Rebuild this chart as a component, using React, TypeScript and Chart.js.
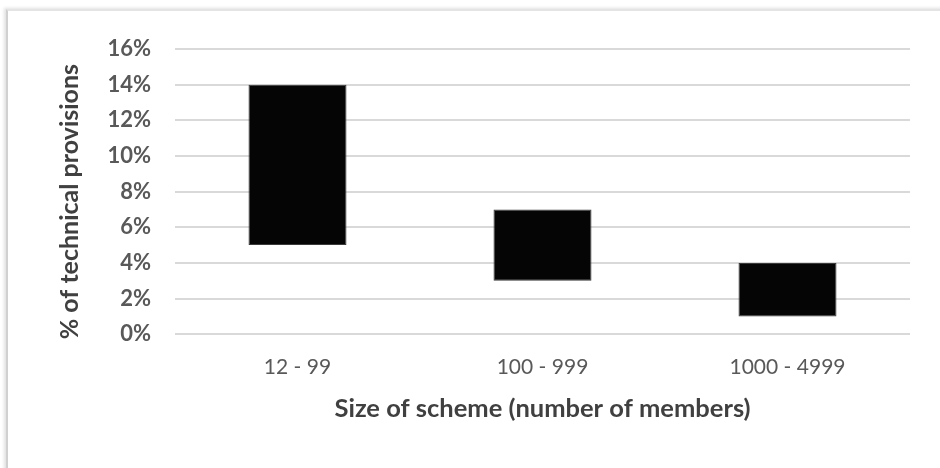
import React, { useEffect, useRef } from "react";
import { Chart, registerables } from "chart.js";

Chart.register(...registerables);

const categories = ["12 - 99", "100 - 999", "1000 - 4999"];
const rangeLow = [5, 3, 1];
const rangeHigh = [14, 7, 4];
const yTicks = [0, 2, 4, 6, 8, 10, 12, 14, 16];
const yTitle = "% of technical provisions";
const xTitle = "Size of scheme (number of members)";

const FONT = "Lato, 'Open Sans', sans-serif";

// Rotated y-axis caption, centred a little below the middle of the plot area.
const yCaptionPlugin = {
  id: "yCaption",
  afterDraw(chart: any) {
    const { ctx, chartArea } = chart;
    ctx.save();
    ctx.translate(70, (chartArea.top + chartArea.bottom) / 2 + 10);
    ctx.rotate(-Math.PI / 2);
    ctx.font = `bold 25px ${FONT}`;
    ctx.fillStyle = "#404040";
    ctx.textAlign = "center";
    ctx.textBaseline = "middle";
    ctx.fillText(yTitle, 0, 0);
    ctx.restore();
  },
};

export default function App() {
  const canvasRef = useRef<HTMLCanvasElement | null>(null);

  useEffect(() => {
    const canvas = canvasRef.current;
    if (!canvas) return;
    const chart = new Chart(canvas, {
      type: "bar",
      data: {
        labels: categories,
        datasets: [
          {
            data: categories.map((_, i) => [rangeLow[i], rangeHigh[i]]) as any,
            backgroundColor: "#050505",
            borderColor: "#3a3a3a",
            borderWidth: 1,
            borderSkipped: false,
            barPercentage: 0.8,
            categoryPercentage: 0.5,
          },
        ],
      },
      options: {
        animation: false,
        responsive: false,
        maintainAspectRatio: false,
        layout: { padding: { left: 52, right: 30, top: 49, bottom: 40 } },
        plugins: { legend: { display: false }, tooltip: { enabled: false } },
        scales: {
          x: {
            grid: { display: false },
            border: { display: false },
            ticks: {
              color: "#595959",
              font: { family: FONT, size: 21 },
              padding: 12,
            },
            title: {
              display: true,
              text: xTitle,
              color: "#404040",
              font: { family: FONT, size: 25.5, weight: "bold" },
              padding: { top: 2 },
            },
          },
          y: {
            min: 0,
            max: 16,
            afterBuildTicks: (scale: any) => {
              scale.ticks = yTicks.map((v) => ({ value: v }));
            },
            afterFit: (scale: any) => {
              scale.width = 123;
            },
            grid: { color: "#d9d9d9", lineWidth: 2, drawTicks: false },
            border: { display: false },
            ticks: {
              color: "#595959",
              font: { family: FONT, size: 22, weight: "bold" },
              padding: 24,
              callback: (v: any) => `${v}%`,
            },
          },
        },
      },
      plugins: [yCaptionPlugin],
    });
    return () => chart.destroy();
  }, []);

  return (
    <div style={{ position: "absolute", left: 0, top: 0, width: 940, height: 468, background: "#ffffff" }}>
      <div
        style={{
          position: "absolute",
          left: 6,
          top: 9,
          width: 940,
          height: 470,
          borderLeft: "2px solid #d0d0d0",
          borderTop: "2px solid #e4e4e4",
          boxShadow: "-2px -1px 3px rgba(0,0,0,0.12)",
        }}
      />
      <canvas ref={canvasRef} width={940} height={468} style={{ position: "absolute", left: 0, top: 0 }} />
    </div>
  );
}
